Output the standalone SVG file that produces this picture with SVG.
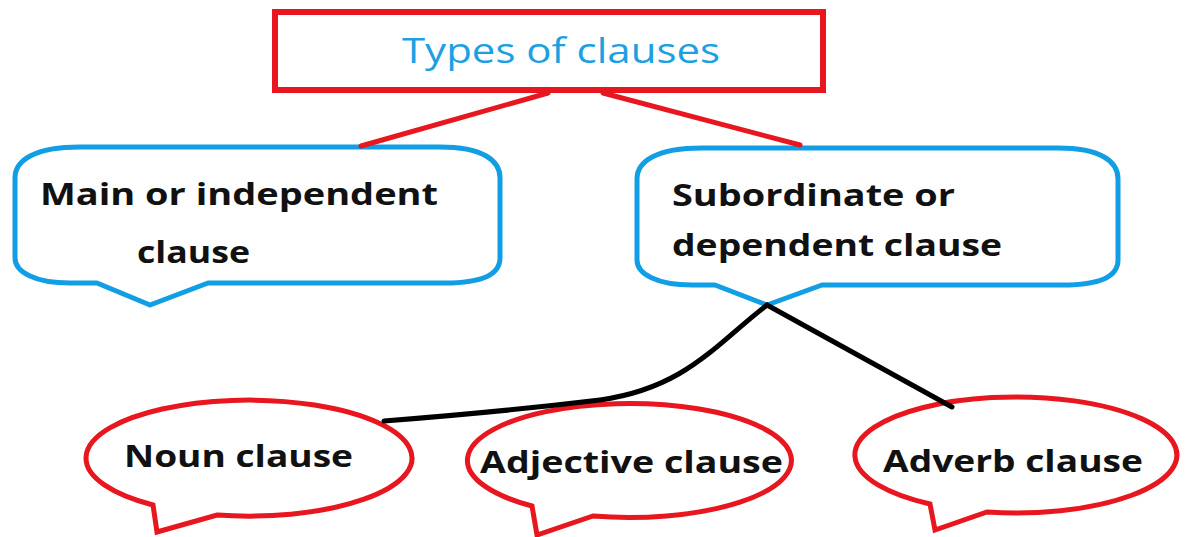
<svg xmlns="http://www.w3.org/2000/svg" width="1190" height="537" viewBox="0 0 1190 537">
<style>
.bg{fill:#ffffff}
.callout{fill:#ffffff;stroke:#129ee4;stroke-width:5;stroke-linejoin:round}
.bubble{fill:#ffffff;stroke:#e8161e;stroke-width:5;stroke-linejoin:miter}
.title-box{fill:#ffffff;stroke:#e8161e;stroke-width:6}
.red-link{stroke:#e8161e;stroke-width:5;fill:none;stroke-linecap:round}
.black-link{stroke:#000000;stroke-width:5;fill:none;stroke-linecap:round}
.lbl{font-family:"Open Sans","Liberation Sans",sans-serif;font-weight:700;font-size:30px;fill:#111111}
.title{font-family:"Open Sans","Liberation Sans",sans-serif;font-weight:400;font-size:34px;fill:#1ba1e2}
</style>
<rect class="bg" x="0" y="0" width="1190" height="537"/>
<g id="title">
  <rect class="title-box" x="275" y="12" width="548" height="78"/>
  <text class="title" x="402" y="63" textLength="318" lengthAdjust="spacingAndGlyphs">Types of clauses</text>
</g>
<g id="main-clause">
  <path class="callout" d="M80,147 L440,147 C482,147 500,160 500,178 L500,258 C500,274 482,283 445,283 L208,283 L150,305 L97,283 L70,283 C35,283 15,272 15,258 L15,178 C15,160 35,147 80,147 Z"/>
  <text class="lbl" x="40" y="205" textLength="398" lengthAdjust="spacingAndGlyphs">Main or independent</text>
  <text class="lbl" x="137" y="263" textLength="113" lengthAdjust="spacingAndGlyphs">clause</text>
</g>
<g id="subordinate-clause">
  <path class="callout" d="M702,148 L1058,148 C1100,148 1118,161 1118,179 L1118,260 C1118,276 1100,285 1063,285 L822,285 L767,305 L715,285 L692,285 C657,285 637,274 637,260 L637,179 C637,161 657,148 702,148 Z"/>
  <text class="lbl" x="672" y="206" textLength="283" lengthAdjust="spacingAndGlyphs">Subordinate or</text>
  <text class="lbl" x="672" y="256" textLength="330" lengthAdjust="spacingAndGlyphs">dependent clause</text>
</g>
<g id="noun-clause">
  <path class="bubble" d="M217,515 A163 58 0 1 0 153,505 L157,532 Z"/>
  <text class="lbl" x="124" y="467" textLength="229" lengthAdjust="spacingAndGlyphs">Noun clause</text>
</g>
<g id="adjective-clause">
  <path class="bubble" d="M593,516 A162 57 0 1 0 532,506 L537,535 Z"/>
  <text class="lbl" x="480" y="473" textLength="303" lengthAdjust="spacingAndGlyphs">Adjective clause</text>
</g>
<g id="adverb-clause">
  <path class="bubble" d="M987,512 A161 58 0 1 0 930,504 L935,530 Z"/>
  <text class="lbl" x="883" y="472" textLength="260" lengthAdjust="spacingAndGlyphs">Adverb clause</text>
</g>
<g id="connectors">
  <line class="red-link" x1="548" y1="93" x2="361" y2="146"/>
  <line class="red-link" x1="603" y1="93" x2="800" y2="145"/>
  <path class="black-link" d="M767,305 C715,345 685,388 600,400 Q500,412 384,421"/>
  <line class="black-link" x1="767" y1="305" x2="952" y2="407"/>
</g>
</svg>
